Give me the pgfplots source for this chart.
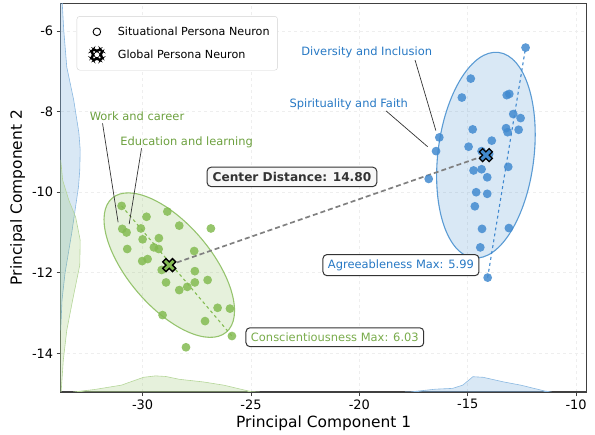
\documentclass[border=0pt]{standalone}
\usepackage{fontspec}
\setmainfont{DejaVu Sans}
\usepackage{pgfplots}
\pgfplotsset{compat=1.18}
\usetikzlibrary{calc}

\definecolor{gpt}{RGB}{132,187,82}
\definecolor{bpt}{RGB}{66,138,207}
\definecolor{gtxt}{RGB}{108,160,62}
\definecolor{btxt}{RGB}{38,120,196}
\definecolor{gedge}{RGB}{150,196,110}
\definecolor{bedge}{RGB}{90,155,212}

\pgfdeclareplotmark{fatx}{%
  \pgfpathmoveto{\pgfpoint{-0.5\pgfplotmarksize}{-1\pgfplotmarksize}}%
  \pgfpathlineto{\pgfpoint{0pt}{-0.5\pgfplotmarksize}}%
  \pgfpathlineto{\pgfpoint{0.5\pgfplotmarksize}{-1\pgfplotmarksize}}%
  \pgfpathlineto{\pgfpoint{1\pgfplotmarksize}{-0.5\pgfplotmarksize}}%
  \pgfpathlineto{\pgfpoint{0.5\pgfplotmarksize}{0pt}}%
  \pgfpathlineto{\pgfpoint{1\pgfplotmarksize}{0.5\pgfplotmarksize}}%
  \pgfpathlineto{\pgfpoint{0.5\pgfplotmarksize}{1\pgfplotmarksize}}%
  \pgfpathlineto{\pgfpoint{0pt}{0.5\pgfplotmarksize}}%
  \pgfpathlineto{\pgfpoint{-0.5\pgfplotmarksize}{1\pgfplotmarksize}}%
  \pgfpathlineto{\pgfpoint{-1\pgfplotmarksize}{0.5\pgfplotmarksize}}%
  \pgfpathlineto{\pgfpoint{-0.5\pgfplotmarksize}{0pt}}%
  \pgfpathlineto{\pgfpoint{-1\pgfplotmarksize}{-0.5\pgfplotmarksize}}%
  \pgfpathclose
  \pgfusepath{fill,stroke}%
}

\begin{document}
\begin{tikzpicture}
\begin{axis}[
  scale only axis, width=526bp, height=388.7bp,
  xmin=-33.78, xmax=-9.51, ymin=-14.96, ymax=-5.31,
  xtick={-30,-25,-20,-15,-10}, ytick={-14,-12,-10,-8,-6},
  xtick pos=bottom, ytick pos=left,
  tick align=outside, major tick length=4bp,
  tick style={color=black!75, line width=0.8bp},
  grid=major, major grid style={dashed, gray!13, line width=0.6bp},
  axis line style={black!75, line width=1.2bp},
  /pgf/number format/assume math mode=true,
  ticklabel style={font=\fontsize{13}{15}\selectfont},
  label style={font=\fontsize{15.5}{18}\selectfont},
  xlabel={Principal Component 1}, ylabel={Principal Component 2},
  legend style={at={(0.0304,0.967)}, anchor=north west, draw=gray!35, rounded corners=3bp,
    fill=white, font=\fontsize{11.2}{13}\selectfont, row sep=9bp,
    inner xsep=6bp, inner ysep=8.5bp},
  legend cell align=left,
  legend image code/.code={\path[draw=none,fill=none] (0bp,0bp) -- (33bp,0bp); \draw[#1] plot coordinates {(14bp,0bp)};},
]
% marginal KDEs (x)
\addplot[draw=gedge!70, line width=0.6bp, fill=gpt, fill opacity=0.2, forget plot] coordinates {
(-33.2,-14.96) (-32.24,-14.90) (-30.98,-14.79) (-29.96,-14.595) (-29.40,-14.56) (-28.93,-14.575) (-28.30,-14.645) (-27.20,-14.71) (-26.26,-14.79) (-25.0,-14.95) (-24.6,-14.96)} -- cycle;
\addplot[draw=bedge!70, line width=0.6bp, fill=bpt, fill opacity=0.2, forget plot] coordinates {
(-17.9,-14.96) (-17.60,-14.955) (-16.49,-14.89) (-15.70,-14.87) (-15.23,-14.79) (-14.76,-14.58) (-14.29,-14.595) (-13.34,-14.71) (-12.55,-14.79) (-11.45,-14.935) (-11.13,-14.96)} -- cycle;
% marginal KDEs (y)
\addplot[draw=bedge!70, line width=0.6bp, fill=bpt, fill opacity=0.2, forget plot] coordinates {
(-33.78,-5.0) (-33.72,-5.0) (-33.71,-5.30) (-33.64,-5.97) (-33.50,-6.89) (-33.18,-7.71) (-32.94,-8.53) (-32.88,-8.95) (-32.90,-9.45) (-32.96,-9.87) (-33.27,-11.01) (-33.58,-12.01) (-33.72,-12.68) (-33.78,-13.43)} -- cycle;
\addplot[draw=gedge!70, line width=0.6bp, fill=gpt, fill opacity=0.2, forget plot] coordinates {
(-33.78,-9.20) (-33.69,-9.70) (-33.41,-10.19) (-33.09,-10.62) (-32.88,-11.19) (-32.90,-11.81) (-33.23,-12.68) (-33.50,-13.43) (-33.66,-14.17) (-33.76,-14.96) (-33.78,-14.96)} -- cycle;

% confidence ellipses
\filldraw[fill=gpt, fill opacity=0.2, draw=gedge, line width=1.1bp,
  rotate around={-49.6:(axis cs:-28.77,-11.81)}] (axis cs:-28.77,-11.81) ellipse [x radius=88bp, y radius=41.6bp];
\filldraw[fill=bpt, fill opacity=0.2, draw=bedge, line width=1.1bp,
  rotate around={83:(axis cs:-14.16,-9.08)}] (axis cs:-14.16,-9.08) ellipse [x radius=103.5bp, y radius=48bp];

% trait lines
\addplot[gpt, dashed, line width=1.1bp, forget plot] coordinates {(-30.97,-10.34) (-25.88,-13.57)};
\addplot[bpt, dashed, line width=1.1bp, forget plot] coordinates {(-14.08,-12.12) (-12.33,-6.41)};

% situational neurons
\addplot[only marks, mark=*, mark size=4.4bp, color=gpt, fill opacity=0.85, draw opacity=0, forget plot] coordinates {
(-30.97,-10.34) (-29.82,-10.61) (-28.86,-10.48) (-28.31,-10.83) (-26.85,-10.90)
(-30.94,-10.91) (-30.74,-11.00) (-30.08,-10.90) (-30.00,-11.17) (-29.25,-11.14)
(-30.71,-11.41) (-29.48,-11.37) (-29.26,-11.41) (-27.62,-11.46) (-30.02,-11.71)
(-29.77,-11.66) (-29.12,-11.93) (-27.59,-11.96) (-28.92,-12.24) (-28.31,-12.43)
(-27.94,-12.35) (-27.59,-12.24) (-27.00,-12.18) (-26.54,-12.87) (-25.97,-12.89)
(-29.08,-13.05) (-27.12,-13.20) (-25.88,-13.57) (-28.00,-13.85)};
\addplot[only marks, mark=*, mark size=4.4bp, color=bpt, fill opacity=0.85, draw opacity=0, forget plot] coordinates {
(-12.33,-6.41) (-14.86,-7.18) (-15.27,-7.65) (-13.20,-7.59) (-13.08,-7.56)
(-12.90,-8.06) (-12.56,-8.16) (-13.23,-8.41) (-13.16,-8.51) (-12.65,-8.45)
(-14.77,-8.44) (-13.89,-8.72) (-14.96,-8.87) (-16.31,-8.64) (-16.46,-8.98)
(-14.36,-8.98) (-14.01,-9.05) (-14.73,-9.46) (-14.36,-9.43) (-13.13,-9.37)
(-14.10,-9.63) (-16.80,-9.67) (-14.61,-10.00) (-14.10,-10.04) (-14.67,-10.35)
(-14.34,-10.91) (-13.10,-10.89) (-14.42,-11.37) (-14.08,-12.12)};

% center distance line
\addplot[gray, dashed, dash pattern=on 5bp off 3bp, line width=1.7bp, forget plot] coordinates {(-28.77,-11.81) (-14.16,-9.08)};

% global neurons
\addplot[only marks, mark=fatx, mark size=6.5bp, mark options={fill=gpt, draw=black, line width=1.3bp}, forget plot] coordinates {(-28.77,-11.81)};
\addplot[only marks, mark=fatx, mark size=6.5bp, mark options={fill=bpt, draw=black, line width=1.3bp}, forget plot] coordinates {(-14.16,-9.08)};

% leader lines
\draw[black!80, line width=0.7bp] (axis cs:-17.43,-6.72) -- (axis cs:-16.47,-8.47);
\draw[black!80, line width=0.7bp] (axis cs:-18.77,-7.98) -- (axis cs:-16.85,-8.87);
\draw[black!80, line width=0.7bp] (axis cs:-31.85,-8.29) -- (axis cs:-31.13,-10.75);
\draw[black!80, line width=0.7bp] (axis cs:-30.05,-8.91) -- (axis cs:-30.62,-10.79);

% labels
\node[text=btxt, font=\fontsize{11.5}{13}\selectfont] at (axis cs:-19.66,-6.54) {Diversity and Inclusion};
\node[text=btxt, font=\fontsize{11.5}{13}\selectfont] at (axis cs:-20.49,-7.81) {Spirituality and Faith};
\node[text=gtxt, font=\fontsize{11.5}{13}\selectfont] at (axis cs:-30.26,-8.12) {Work and career};
\node[text=gtxt, font=\fontsize{11.5}{13}\selectfont] at (axis cs:-27.97,-8.76) {Education and learning};

\node[draw=black!80, line width=1bp, fill=black!3, rounded corners=4bp, inner xsep=5.5bp, inner ysep=5bp,
  text=black!80, font=\bfseries\fontsize{12.2}{14}\selectfont] at (axis cs:-23.11,-9.62) {Center Distance: 14.80};
\node[draw=black!80, line width=1bp, fill=white, rounded corners=4bp, inner xsep=5bp, inner ysep=5bp,
  text=btxt, font=\fontsize{11.5}{13}\selectfont] at (axis cs:-18.08,-11.81) {Agreeableness Max: 5.99};
\node[draw=black!80, line width=1bp, fill=white, rounded corners=4bp, inner xsep=5bp, inner ysep=5bp,
  text=gpt!92!black, font=\fontsize{11.5}{13}\selectfont] at (axis cs:-21.13,-13.60) {Conscientiousness Max: 6.03};

% legend
\addlegendimage{only marks, mark=o, mark size=3.8bp, mark options={draw=black, line width=0.9bp}}
\addlegendentry{Situational Persona Neuron}
\addlegendimage{only marks, mark=fatx, mark size=6bp, mark options={fill=white, draw=black, line width=1.8bp}}
\addlegendentry{Global Persona Neuron}
\end{axis}
\pgfresetboundingbox
\path[use as bounding box] ($(current axis.south west)+(-60.7bp,-43bp)$) rectangle ($(current axis.north east)+(8.3bp,3.3bp)$);
\end{tikzpicture}
\end{document}
